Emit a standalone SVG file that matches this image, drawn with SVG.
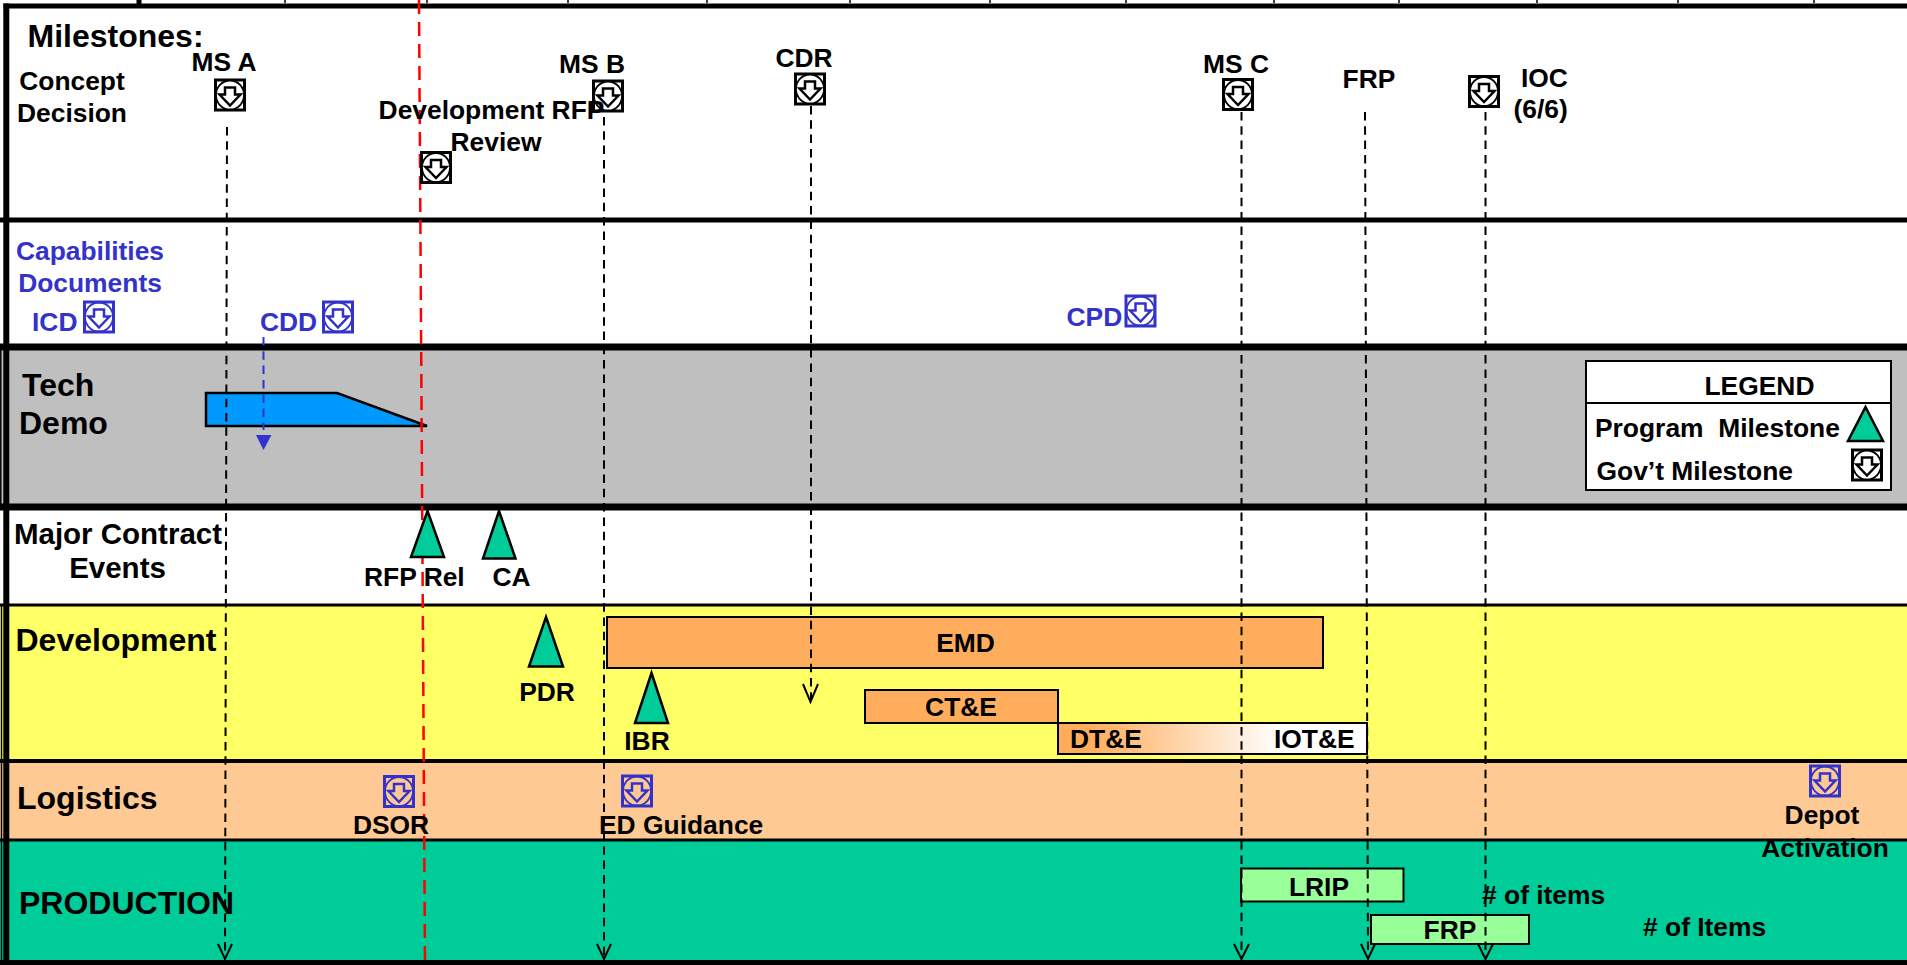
<svg xmlns="http://www.w3.org/2000/svg" width="1907" height="965" viewBox="0 0 1907 965">
<style>
text{font-family:"Liberation Sans",Arial,sans-serif;font-weight:bold;font-size:26.400px;fill:#000}
.b{fill:#3333CC}.t{font-size:32px}.m{text-anchor:middle}
.rule{stroke:#000;fill:none}
.dash{stroke:#000;stroke-width:2;stroke-dasharray:8.500 5.800;fill:none}
.head{stroke:#000;stroke-width:2;fill:none}
.tri{fill:#00CC99;stroke:#000;stroke-width:2.500}
.bar{stroke:#000;stroke-width:2}
.ic{stroke:#000;fill:#fff}.ib{stroke:#3333CC;fill:none}
</style>
<defs>
<g id="icon">
<rect x="-14.500" y="-15" width="29" height="30" stroke-width="3"/>
<ellipse cx="0" cy="0" rx="14" ry="14.500" stroke-width="1.800"/>
<path d="M-5-7.500H5V-.5H10.500L0 10.500-10.500-.5H-5Z" stroke-width="2.500"/>
</g>
<linearGradient id="fade" x1="0" x2="1" y1="0" y2="0"><stop offset="0" stop-color="#FFAD5C"/><stop offset="0.1" stop-color="#FFAD5C"/><stop offset="0.72" stop-color="#fff"/></linearGradient>
</defs>
<g id="bands">
<rect x="0" y="0" width="1907" height="965" fill="#fff"/>
<rect x="0" y="347" width="1907" height="160" fill="#BFBFBF"/>
<rect x="0" y="605" width="1907" height="156" fill="#FFFF66"/>
<rect x="0" y="761" width="1907" height="79" fill="#FFC993"/>
<rect x="0" y="840" width="1907" height="125" fill="#00CC99"/>
</g>
<g id="rules" class="rule">
<path stroke-width="5" d="M139 6V0"/>
<path stroke-width="1.500" d="M285 0V3M427 0V3M568 0V3M707 0V3M850 0V3M990 0V3M1126 0V3M1274 0V3M1399 0V3M1537 0V3M1678 0V3M1814 0V3"/>
<path stroke-width="5" d="M3.500 6H1907M0 220H1907"/>
<path stroke-width="6" d="M6.300 3.500V965"/>
<path stroke-width="7" d="M0 347H1907M0 507H1907"/>
<path stroke-width="3" d="M0 605H1907M0 840H1907"/>
<path stroke-width="4" d="M0 761H1907"/>
<path stroke-width="5" d="M0 962.500H1907"/>
<path stroke-width="1.500" d="M.8 345V505M1.500 605V965"/>
</g>
<g id="bars">
<path id="tech-demo" d="M206 393H337L427 426H206Z" fill="#0099FF" stroke="#000" stroke-width="2.500"/>
<rect id="emd" class="bar" x="607" y="617" width="716" height="51" fill="#FFAD5C"/>
<rect id="cte" class="bar" x="865" y="690" width="193" height="33" fill="#FFAD5C"/>
<rect id="dte" class="bar" x="1058" y="723" width="309" height="31" fill="url(#fade)"/>
<rect id="lrip" class="bar" x="1241" y="868.500" width="162.500" height="33" fill="#99FF99"/>
<rect id="frp-bar" class="bar" x="1371" y="915" width="158" height="29" fill="#99FF99"/>
</g>
<g id="connectors">
<path stroke="#FF0000" stroke-width="2.500" stroke-dasharray="14 8" fill="none" d="M419 0L425 962"/>
<path class="dash" d="M227 127L225 958"/><path class="head" d="M218 944L225 959 232 944"/>
<path class="dash" d="M604 117V958"/><path class="head" d="M597 944L604 959 611 944"/>
<path class="dash" d="M811 106V700"/><path class="head" d="M803 684L810.500 702 818 684"/>
<path class="dash" d="M1241.500 112V958"/><path class="head" d="M1234 944L1241.500 959 1249 944"/>
<path class="dash" d="M1365 112L1368 958"/><path class="head" d="M1361 944L1368 959 1375 944"/>
<path class="dash" d="M1485.500 112V958"/><path class="head" d="M1478 944L1485.500 959 1493 944"/>
<path stroke="#3333CC" stroke-width="2" stroke-dasharray="8.500 5.800" fill="none" d="M263.500 337V430"/>
<path fill="#3333CC" d="M256 435H271.500L263.500 450Z"/>
</g>
<g id="milestones">
<text class="t" x="27.500" y="46.500">Milestones:</text>
<g id="concept"><text class="m" x="72" y="90">Concept</text><text class="m" x="72" y="122">Decision</text></g>
<g id="ms-a"><text class="m" x="224" y="71">MS A</text><use href="#icon" class="ic" x="230" y="95"/></g>
<g id="ms-b"><use href="#icon" class="ic" x="608" y="96"/><text class="m" x="592" y="72.500">MS B</text></g>
<g id="dev-rfp"><use href="#icon" class="ic" x="436" y="167.500"/><text class="m" x="491.500" y="118.500">Development RFP</text><text class="m" x="496" y="151">Review</text></g>
<g id="cdr"><text class="m" x="804" y="67">CDR</text><use href="#icon" class="ic" x="810" y="89"/></g>
<g id="ms-c"><text class="m" x="1236" y="72.500">MS C</text><use href="#icon" class="ic" x="1238" y="94.500"/></g>
<g id="frp"><text class="m" x="1369" y="88">FRP</text></g>
<g id="ioc"><use href="#icon" class="ic" x="1484" y="91.500"/><text x="1521" y="87">IOC</text><text x="1513.500" y="118">(6/6)</text></g>
</g>
<g id="capabilities">
<text class="b m" x="90" y="260">Capabilities</text><text class="b m" x="90" y="292">Documents</text>
<g id="icd"><text class="b" x="32" y="331">ICD</text><use href="#icon" class="ib" x="99" y="317"/></g>
<g id="cdd"><text class="b" x="260" y="331">CDD</text><use href="#icon" class="ib" x="338" y="317"/></g>
<g id="cpd"><text class="b" x="1066.500" y="325.500">CPD</text><use href="#icon" class="ib" x="1140.500" y="311"/></g>
</g>
<g id="tech"><text class="t" x="22" y="396">Tech</text><text class="t" x="19" y="434">Demo</text></g>
<g id="legend">
<rect x="1586" y="361" width="305" height="129" fill="#fff" stroke="#000" stroke-width="2"/>
<path d="M1586 403H1891" stroke="#000" stroke-width="2"/>
<text class="m" x="1759.500" y="395">LEGEND</text>
<text x="1595" y="437" xml:space="preserve">Program  Milestone</text>
<text x="1596.500" y="480">Gov’t Milestone</text>
<path class="tri" d="M1865.500 407L1883 441H1848Z"/>
<use href="#icon" class="ic" x="1867" y="465"/>
</g>
<g id="contract">
<text class="m" x="118" y="543.500" style="font-size:29.500px">Major Contract</text><text class="m" x="117.500" y="578" style="font-size:29.500px">Events</text>
<path class="tri" d="M427.500 511L444 557H411Z"/><text x="364" y="585.500">RFP Rel</text>
<path class="tri" d="M499 511L515.500 558.500H483Z"/><text x="492.500" y="585.500">CA</text>
</g>
<g id="development">
<text class="t" x="15.500" y="651">Development</text>
<path class="tri" d="M546 617L563 666.500H529Z"/><text class="m" x="547" y="701">PDR</text>
<path class="tri" d="M651.500 673L668 723H635Z"/><text class="m" x="647" y="749.500">IBR</text>
<text class="m" x="965.500" y="652">EMD</text>
<text class="m" x="961" y="716">CT&amp;E</text>
<text x="1070" y="748">DT&amp;E</text>
<text x="1274" y="748">IOT&amp;E</text>
</g>
<g id="logistics">
<text class="t" x="17" y="809">Logistics</text>
<use href="#icon" class="ib" x="399" y="791.500"/><text class="m" x="391" y="834">DSOR</text>
<use href="#icon" class="ib" x="637" y="791"/><text x="599" y="834">ED Guidance</text>
<use href="#icon" class="ib" x="1825" y="781"/><text class="m" x="1822" y="824">Depot</text><text class="m" x="1825" y="856.500">Activation</text>
</g>
<g id="production">
<text class="t" x="19" y="913.500">PRODUCTION</text>
<text class="m" x="1319" y="896">LRIP</text>
<text class="m" x="1450" y="939">FRP</text>
<text x="1482" y="904"># of items</text>
<text x="1643" y="936"># of Items</text>
</g>
</svg>
